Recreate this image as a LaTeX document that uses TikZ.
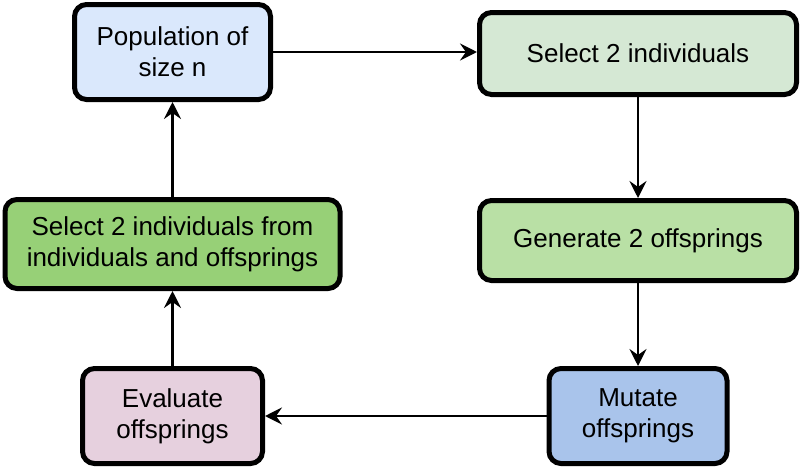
\documentclass[tikz,border=0pt]{standalone}
\usepackage{fontspec}
\setmainfont{Liberation Sans}
\usetikzlibrary{arrows.meta}
\definecolor{popblue}{HTML}{DAE8FC}
\definecolor{selgreen}{HTML}{D5E8D4}
\definecolor{gengreen}{HTML}{B9E0A5}
\definecolor{mutblue}{HTML}{A9C4EB}
\definecolor{evalpink}{HTML}{E6D0DE}
\definecolor{keepgreen}{HTML}{97D077}

\begin{document}
\begin{tikzpicture}[x=1pt,y=-1pt,
  box/.style={draw, line width=5pt, rounded corners=12pt, align=center,
    inner sep=0pt, font=\fontsize{26}{31}\selectfont},
  link/.style={line width=2.8pt, -{Stealth[length=17pt,width=17pt,inset=6pt]}}]
\useasboundingbox (0,0) rectangle (804,469);
\node[box, fill=popblue, minimum width=196pt, minimum height=95pt] (pop) at (172.5,52) {Population of\\size n};
\node[box, fill=selgreen, minimum width=317pt, minimum height=82pt] (sel) at (638,53.5) {Select 2 individuals};
\node[box, fill=gengreen, minimum width=317pt, minimum height=80pt] (gen) at (638,240.5) {Generate 2 offsprings};
\node[box, fill=mutblue, minimum width=178pt, minimum height=95pt] (mut) at (638,416) {Mutate\\offsprings};
\node[box, fill=evalpink, minimum width=180pt, minimum height=95pt] (eval) at (172.5,416) {Evaluate\\offsprings};
\node[box, fill=keepgreen, minimum width=335pt, minimum height=89pt] (keep) at (172.5,244) {Select 2 individuals from\\individuals and offsprings};
% loop of the algorithm
\draw[link] (pop.east) -- (pop.east -| sel.west);
\draw[link] (sel) -- (gen);
\draw[link] (gen) -- (mut);
\draw[link] (mut) -- (eval);
\draw[link] (eval) -- (keep);
\draw[link] (keep) -- (pop);
\end{tikzpicture}
\end{document}
